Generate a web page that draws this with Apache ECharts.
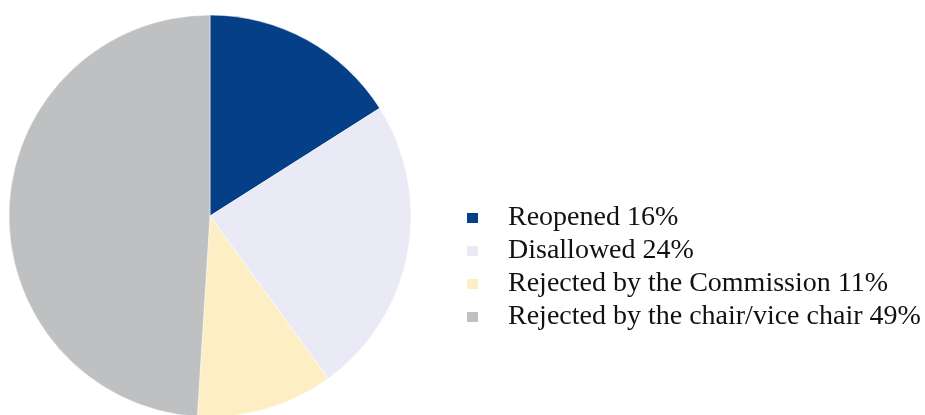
<!DOCTYPE html>
<html>
<head>
<meta charset="utf-8">
<script src="https://cdn.jsdelivr.net/npm/echarts@6/dist/echarts.min.js"></script>
<style>
  html, body { margin: 0; padding: 0; background: #ffffff; }
  #chart { width: 925px; height: 415px; }
</style>
</head>
<body>
<div id="chart"></div>
<script>
// Outcome categories and their shares (percent)
const categories = [
  'Reopened',
  'Disallowed',
  'Rejected by the Commission',
  'Rejected by the chair/vice chair'
];
const shares = [16, 24, 11, 49];
const colors = ['#043f87', '#e9eaf5', '#fdefc3', '#bfc0c2'];

const chart = echarts.init(document.getElementById('chart'), null, { renderer: 'canvas' });

const data = categories.map((name, i) => ({
  name: name,
  value: shares[i],
  itemStyle: { color: colors[i] }
}));

chart.setOption({
  animation: false,
  backgroundColor: '#ffffff',
  legend: {
    orient: 'vertical',
    left: 460,
    top: 199,
    itemWidth: 13,
    itemHeight: 12,
    itemGap: 5,
    icon: 'rect',
    selectedMode: false,
    data: categories,
    formatter: function (name) {
      const i = categories.indexOf(name);
      return name + ' ' + shares[i] + '%';
    },
    textStyle: {
      fontFamily: '"Liberation Serif", "Times New Roman", serif',
      fontSize: 28,
      lineHeight: 26,
      color: '#111111',
      padding: [0, 0, 0, 24]
    }
  },
  series: [{
    type: 'pie',
    center: [210, 216],
    radius: [0, 201],
    startAngle: 90,
    clockwise: true,
    label: { show: false },
    labelLine: { show: false },
    emphasis: { disabled: true },
    itemStyle: { borderWidth: 0.5, borderColor: '#ffffff' },
    data: data
  }]
});
</script>
</body>
</html>
